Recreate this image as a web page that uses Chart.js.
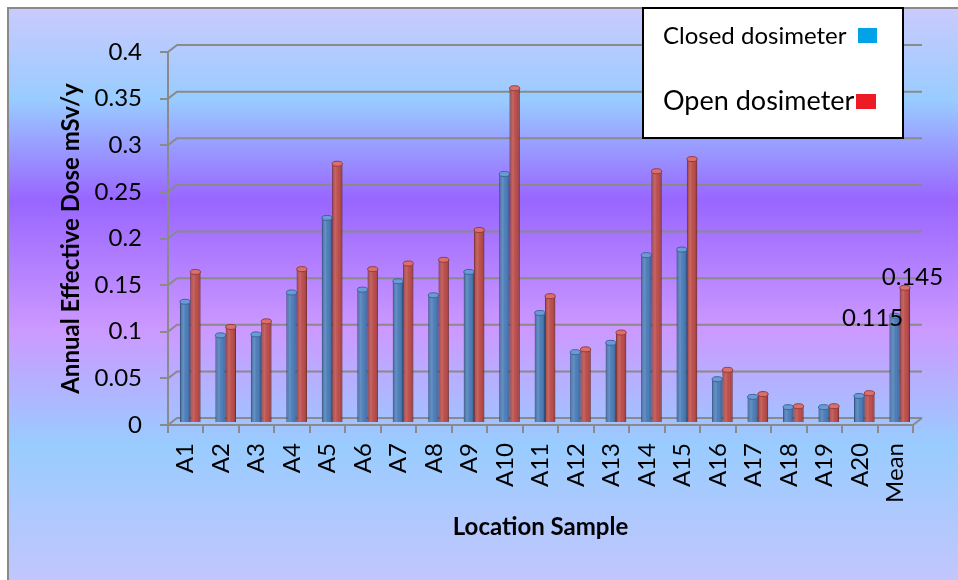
<!DOCTYPE html>
<html>
<head>
<meta charset="utf-8">
<script src="https://cdn.jsdelivr.net/npm/chart.js@4/dist/chart.umd.min.js"></script>
<style>
  html, body { margin: 0; padding: 0; background: #fff; }
  #wrap { width: 958px; height: 580px; position: relative; }
</style>
</head>
<body>
<div id="wrap"><canvas id="chart" width="958" height="580"></canvas></div>
<script>
// Sampling locations plus the overall mean
const categories = ['A1', 'A2', 'A3', 'A4', 'A5', 'A6', 'A7', 'A8', 'A9', 'A10',
  'A11', 'A12', 'A13', 'A14', 'A15', 'A16', 'A17', 'A18', 'A19', 'A20', 'Mean'];

// Annual effective dose (mSv/y)
const closedDose = [0.130, 0.094, 0.095, 0.140, 0.220, 0.143, 0.152, 0.137, 0.162, 0.267,
  0.118, 0.076, 0.086, 0.180, 0.186, 0.047, 0.028, 0.017, 0.017, 0.029, 0.115];
const openDose = [0.162, 0.103, 0.109, 0.165, 0.278, 0.165, 0.171, 0.175, 0.207, 0.359,
  0.136, 0.079, 0.097, 0.270, 0.283, 0.057, 0.031, 0.018, 0.018, 0.032, 0.145];

const seriesNames = ['Closed dosimeter', 'Open dosimeter'];
const yTickLabels = ['0', '0.05', '0.1', '0.15', '0.2', '0.25', '0.3', '0.35', '0.4'];

const FONT = 'Lato, "Open Sans", sans-serif';
const GRID = '#8a8a8a';

// Gradient backdrop and the outer frame
const frameBg = {
  id: 'frameBg',
  beforeDraw(chart) {
    const { ctx, width, height } = chart;
    ctx.save();
    ctx.fillStyle = '#ffffff';
    ctx.fillRect(0, 0, width, height);
    const g = ctx.createLinearGradient(0, 8, 0, height);
    g.addColorStop(0.00, '#cacafd');
    g.addColorStop(0.16, '#99ccff');
    g.addColorStop(0.336, '#9966ff');
    g.addColorStop(0.563, '#cc99ff');
    g.addColorStop(0.764, '#99ccff');
    g.addColorStop(1.00, '#c2c6fd');
    ctx.fillStyle = g;
    ctx.fillRect(8, 8, width - 8, height - 8);
    ctx.strokeStyle = GRID;
    ctx.lineWidth = 2;
    ctx.beginPath();
    ctx.moveTo(8, height);
    ctx.lineTo(8, 8);
    ctx.lineTo(width, 8);
    ctx.stroke();
    ctx.restore();
  }
};

// Back wall gridlines with the perspective step, and cylinder shading on the bars
const depthWall = {
  id: 'depthWall',
  beforeDatasetsDraw(chart, args, opts) {
    const { ctx, chartArea: a, scales: { y } } = chart;
    ctx.save();
    ctx.strokeStyle = GRID;
    ctx.lineWidth = 2;
    y.ticks.forEach(t => {
      const py = y.getPixelForValue(t.value);
      ctx.beginPath();
      ctx.moveTo(a.left, py);
      ctx.lineTo(a.left + opts.dx, py - opts.dy);
      ctx.lineTo(a.right + opts.dx, py - opts.dy);
      ctx.stroke();
    });
    ctx.beginPath();
    ctx.moveTo(a.right, a.bottom);
    ctx.lineTo(a.right + opts.dx, a.bottom - opts.dy);
    ctx.stroke();
    ctx.restore();
    // bars stand halfway into the floor depth
    ctx.save();
    ctx.translate(opts.barDx, -opts.barDy);
  },
  afterDatasetsDraw(chart, args, opts) {
    const { ctx } = chart;
    chart.data.datasets.forEach((ds, di) => {
      const meta = chart.getDatasetMeta(di);
      meta.data.forEach(el => {
        const { x, y, base, width } = el.getProps(['x', 'y', 'base', 'width'], true);
        const l = x - width / 2;
        const g = ctx.createLinearGradient(l, 0, l + width, 0);
        g.addColorStop(0, 'rgba(0,0,0,0.22)');
        g.addColorStop(0.35, 'rgba(255,255,255,0.12)');
        g.addColorStop(0.7, 'rgba(0,0,0,0.02)');
        g.addColorStop(1, 'rgba(0,0,0,0.25)');
        ctx.fillStyle = g;
        ctx.fillRect(l, y, width, base - y);
        ctx.beginPath();
        ctx.ellipse(x, y, width / 2, 2.5, 0, 0, Math.PI * 2);
        ctx.fillStyle = ds.capColor;
        ctx.fill();
        ctx.strokeStyle = ds.borderColor;
        ctx.lineWidth = 1;
        ctx.stroke();
      });
    });
    ctx.restore();

    // value labels on the mean pair
    const last = categories.length - 1;
    const bBlue = chart.getDatasetMeta(0).data[last];
    const bRed = chart.getDatasetMeta(1).data[last];
    ctx.save();
    ctx.font = '24px ' + FONT;
    ctx.fillStyle = '#000';
    ctx.textAlign = 'center';
    ctx.textBaseline = 'alphabetic';
    ctx.fillText(String(closedDose[last]), bBlue.x + opts.barDx - 22, bBlue.y - opts.barDy + 10);
    ctx.fillText(String(openDose[last]), bRed.x + opts.barDx + 7.5, bRed.y - opts.barDy - 3);
    ctx.restore();
  }
};

// Boxed legend in the top right corner
const boxLegend = {
  id: 'boxLegend',
  afterDraw(chart) {
    const { ctx } = chart;
    ctx.save();
    ctx.fillStyle = '#ffffff';
    ctx.fillRect(643, 8, 260, 130);
    ctx.strokeStyle = '#000';
    ctx.lineWidth = 2;
    ctx.strokeRect(643, 8, 260, 130);
    ctx.fillStyle = '#000';
    ctx.textAlign = 'left';
    ctx.textBaseline = 'alphabetic';
    ctx.font = '24px ' + FONT;
    ctx.fillText(seriesNames[0], 663, 44);
    ctx.font = '27px ' + FONT;
    ctx.fillText(seriesNames[1], 663, 110);
    ctx.fillStyle = '#00a2e8';
    ctx.fillRect(858, 28, 19, 15);
    ctx.fillStyle = '#ed1c24';
    ctx.fillRect(856, 94, 20, 15);
    ctx.restore();
  }
};

new Chart(document.getElementById('chart'), {
  type: 'bar',
  data: {
    labels: categories,
    datasets: [
      {
        label: seriesNames[0],
        data: closedDose,
        backgroundColor: '#4f81bd',
        borderColor: '#3a6699',
        capColor: '#6b9ad6',
        borderWidth: 1,
        categoryPercentage: 0.58,
        barPercentage: 1.0
      },
      {
        label: seriesNames[1],
        data: openDose,
        backgroundColor: '#c0504d',
        borderColor: '#973b39',
        capColor: '#d9706d',
        borderWidth: 1,
        categoryPercentage: 0.58,
        barPercentage: 1.0
      }
    ]
  },
  options: {
    responsive: false,
    animation: false,
    events: [],
    layout: { padding: { left: 0, top: 52, right: 45, bottom: 0 } },
    plugins: {
      legend: { display: false },
      tooltip: { enabled: false },
      depthWall: { dx: 9, dy: 7, barDx: 4.5, barDy: 2 }
    },
    scales: {
      x: {
        offset: true,
        afterFit: s => { s.height = 155; },
        grid: { offset: true, drawOnChartArea: false, drawTicks: true, tickLength: 8, color: GRID, lineWidth: 2 },
        border: { display: true, color: GRID, width: 2 },
        ticks: {
          minRotation: 90, maxRotation: 90, autoSkip: false, padding: 10,
          color: '#000', font: { family: FONT, size: 24 }
        },
        title: {
          display: true, text: 'Location Sample', color: '#000',
          font: { family: FONT, size: 24, weight: 'bold' },
          padding: { top: 0, bottom: 38 }
        }
      },
      y: {
        min: 0, max: 0.4,
        afterFit: s => { s.width = 168; },
        grid: { drawOnChartArea: false, drawTicks: true, tickLength: 8, color: GRID, lineWidth: 2 },
        border: { display: true, color: GRID, width: 2 },
        ticks: {
          stepSize: 0.05, padding: 18, color: '#000',
          font: { family: FONT, size: 24 },
          callback: (v, i) => yTickLabels[i]
        },
        title: {
          display: true, text: 'Annual Effective Dose mSv/y', color: '#000',
          font: { family: FONT, size: 24, weight: 'bold' },
          padding: { top: 57, bottom: 0 }
        }
      }
    }
  },
  plugins: [frameBg, depthWall, boxLegend]
});
</script>
</body>
</html>
